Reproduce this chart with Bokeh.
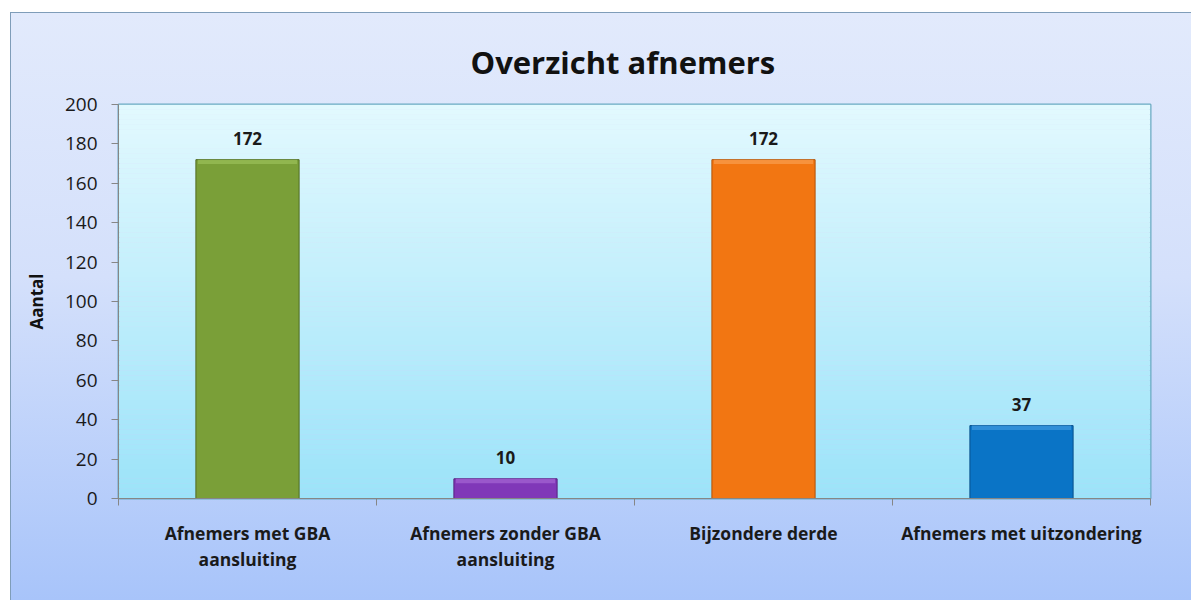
from bokeh.plotting import figure
from bokeh.models import Range1d, FixedTicker, ColumnDataSource, LabelSet
from bokeh.core.properties import value
from bokeh.embed import file_html
from bokeh.resources import INLINE

categories = ["Afnemers met GBA\naansluiting", "Afnemers zonder GBA\naansluiting",
              "Bijzondere derde", "Afnemers met uitzondering"]
counts = [172, 10, 172, 37]
bar_colors = ["#7a9f38", "#8038b8", "#f27612", "#0a74c6"]
edge_colors = ["#4f6a22", "#55207e", "#b0530a", "#07508a"]
light_colors = ["#97bb55", "#a060d0", "#f89a48", "#3a96dc"]
y_ticks = [0, 20, 40, 60, 80, 100, 120, 140, 160, 180, 200]

FONT = "Open Sans"

p = figure(width=1181, height=588, output_backend="svg", toolbar_location=None,
           x_range=Range1d(0, len(categories)), y_range=Range1d(0, 200),
           min_border_left=107, min_border_top=91, min_border_right=42, min_border_bottom=103,
           border_fill_color=None, background_fill_color=None,
           styles={"margin-left": "10px", "margin-top": "12px",
                   "border-top": "1px solid #7f9db9", "border-left": "1px solid #7f9db9",
                   "background": "linear-gradient(to bottom, #e2eafc 0%, #d4e0fb 45%, #a8c4fa 100%)"})

# frame gradient bands
n = 80
top_c = (0xe2, 0xf9, 0xfe)
bot_c = (0x9c, 0xe3, 0xf9)
bottoms, tops, cols = [], [], []
for i in range(n):
    t = i / (n - 1)
    c = tuple(int(round(bot_c[k] + (top_c[k] - bot_c[k]) * t)) for k in range(3))
    bottoms.append(200 * i / n)
    tops.append(200 * (i + 1) / n)
    cols.append("#%02x%02x%02x" % c)
p.quad(left=0, right=len(categories), bottom=bottoms, top=tops, fill_color=cols, line_color=None)

xs = [i + 0.5 for i in range(len(categories))]
src = ColumnDataSource(dict(x=xs, top=counts, color=bar_colors, edge=edge_colors,
                            light=light_colors, bevel=[c - 2.2 for c in counts],
                            label=[str(c) for c in counts]))
p.vbar(x="x", top="top", width=0.4, bottom=0, fill_color="color", line_color="edge",
       line_width=1, source=src)
# bevel highlight along the top of each bar
p.vbar(x="x", top="top", width=0.385, bottom="bevel", fill_color="light",
       line_color=None, fill_alpha=0.8, source=src)

labels = LabelSet(x="x", y="top", text="label", source=src, text_align="center",
                  text_baseline="bottom", y_offset=15, text_font=value(FONT),
                  text_font_style="bold", text_font_size="17px", text_color="#1a1a1a")
p.add_layout(labels)

p.title.text = "Overzicht afnemers"
p.title.text_font = FONT
p.title.text_font_size = "31px"
p.title.text_font_style = "bold"
p.title.align = "left"
p.title.offset = 352
p.title.text_color = "#111111"
p.title.standoff = 43

p.outline_line_color = "#6aa9c2"
p.outline_line_width = 2

p.xgrid.visible = False
p.ygrid.visible = False

# y axis
p.yaxis.ticker = FixedTicker(ticks=y_ticks)
p.yaxis.axis_label = "Aantal"
p.yaxis.axis_label_text_font = FONT
p.yaxis.axis_label_text_font_style = "bold"
p.yaxis.axis_label_text_font_size = "17px"
p.yaxis.axis_label_text_color = "#111111"
p.yaxis.axis_label_standoff = 14
p.yaxis.major_label_text_font = FONT
p.yaxis.major_label_text_font_size = "19px"
p.yaxis.major_label_text_color = "#1a1a1a"
p.yaxis.major_label_standoff = 14
p.yaxis.major_tick_out = 7
p.yaxis.major_tick_in = 0
p.yaxis.minor_tick_line_color = None
p.yaxis.axis_line_color = "#868686"
p.yaxis.major_tick_line_color = "#868686"

# x axis
p.xaxis.ticker = FixedTicker(ticks=xs, minor_ticks=list(range(len(categories) + 1)))
p.xaxis.major_label_overrides = {x: c for x, c in zip(xs, categories)}
p.xaxis.major_tick_line_color = None
p.xaxis.major_tick_out = 0
p.xaxis.major_tick_in = 0
p.xaxis.minor_tick_out = 7
p.xaxis.minor_tick_in = 0
p.xaxis.minor_tick_line_color = "#868686"
p.xaxis.axis_line_color = "#868686"
p.xaxis.major_label_text_font = FONT
p.xaxis.major_label_text_font_style = "bold"
p.xaxis.major_label_text_font_size = "17.5px"
p.xaxis.major_label_text_color = "#1a1a1a"
p.xaxis.major_label_text_line_height = 1.1
p.xaxis.major_label_standoff = 15

open("out.html", "w").write(file_html(p, INLINE))
